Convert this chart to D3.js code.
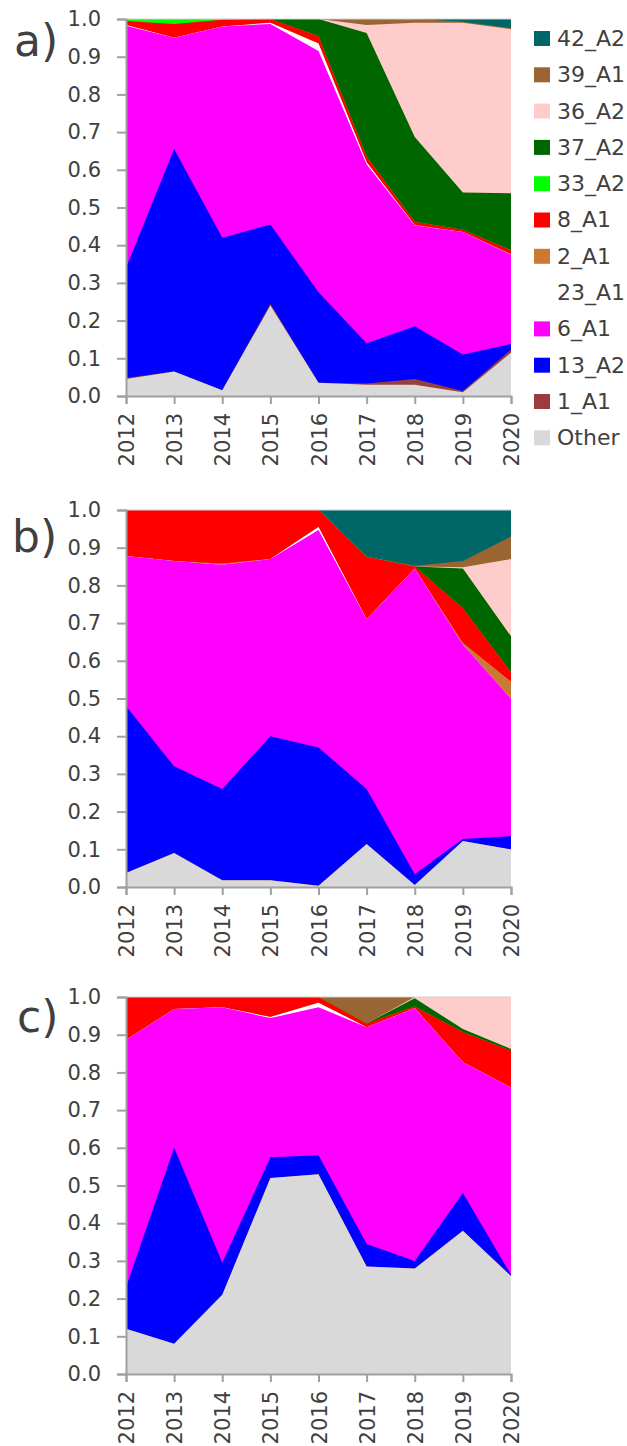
<!DOCTYPE html>
<html>
<head>
<meta charset="utf-8">
<script src="https://cdn.jsdelivr.net/npm/d3@7"></script>
<style>
  body { margin: 0; background: #fff; }
  svg { display: block; }
  text { font-family: "DejaVu Sans", sans-serif; fill: #404040; }
</style>
</head>
<body>
<div id="chart"></div>
<script>
// years on the x axis
const years = [2012, 2013, 2014, 2015, 2016, 2017, 2018, 2019, 2020];

// stack order, bottom to top
const keys = ["Other", "1_A1", "13_A2", "6_A1", "23_A1", "2_A1", "8_A1", "33_A2", "37_A2", "36_A2", "39_A1", "42_A2"];
const colors = ["#d9d9d9", "#993d3d", "#0000ff", "#ff00ff", "#ffffff", "#cc7a33", "#ff0000", "#00ff00", "#006600", "#ffcccc", "#996633", "#006666"];

const yTicks = [0, 0.1, 0.2, 0.3, 0.4, 0.5, 0.6, 0.7, 0.8, 0.9, 1.0];

// panel a) proportions per year
const seriesA = {
  "Other": [0.045, 0.065, 0.015, 0.24, 0.035, 0.03, 0.03, 0.01, 0.115],
  "1_A1":  [0.003, 0, 0, 0.005, 0, 0.003, 0.015, 0.003, 0.008],
  "13_A2": [0.292, 0.59, 0.405, 0.21, 0.24, 0.107, 0.14, 0.097, 0.015],
  "6_A1":  [0.642, 0.295, 0.56, 0.532, 0.64, 0.475, 0.267, 0.325, 0.237],
  "23_A1": [0.002, 0, 0, 0.003, 0.02, 0.005, 0, 0, 0],
  "2_A1":  [0, 0, 0, 0, 0, 0, 0.002, 0, 0.002],
  "8_A1":  [0.011, 0.037, 0.018, 0.01, 0.02, 0.015, 0.008, 0.006, 0.01],
  "33_A2": [0.005, 0.013, 0.002, 0, 0, 0, 0, 0, 0],
  "37_A2": [0, 0, 0, 0, 0.045, 0.328, 0.225, 0.099, 0.151],
  "36_A2": [0, 0, 0, 0, 0, 0.021, 0.303, 0.45, 0.435],
  "39_A1": [0, 0, 0, 0, 0, 0.016, 0.01, 0.003, 0.003],
  "42_A2": [0, 0, 0, 0, 0, 0, 0, 0.007, 0.024]
};

// panel b)
const seriesB = {
  "Other": [0.037, 0.09, 0.018, 0.018, 0.003, 0.114, 0.005, 0.122, 0.1],
  "1_A1":  [0, 0, 0, 0, 0, 0, 0, 0, 0],
  "13_A2": [0.443, 0.23, 0.242, 0.382, 0.367, 0.146, 0.029, 0.005, 0.035],
  "6_A1":  [0.398, 0.545, 0.595, 0.47, 0.577, 0.45, 0.811, 0.516, 0.365],
  "23_A1": [0, 0, 0, 0, 0.008, 0, 0, 0, 0],
  "2_A1":  [0, 0, 0.003, 0, 0, 0, 0, 0.005, 0.045],
  "8_A1":  [0.122, 0.135, 0.142, 0.13, 0.045, 0.166, 0.005, 0.092, 0.025],
  "33_A2": [0, 0, 0, 0, 0, 0, 0, 0, 0],
  "37_A2": [0, 0, 0, 0, 0, 0, 0, 0.105, 0.095],
  "36_A2": [0, 0, 0, 0, 0, 0, 0, 0.003, 0.205],
  "39_A1": [0, 0, 0, 0, 0, 0, 0.002, 0.017, 0.06],
  "42_A2": [0, 0, 0, 0, 0, 0.124, 0.148, 0.135, 0.07]
};

// panel c)
const seriesC = {
  "Other": [0.12, 0.08, 0.21, 0.52, 0.53, 0.285, 0.28, 0.38, 0.26],
  "1_A1":  [0, 0, 0, 0, 0, 0, 0, 0, 0],
  "13_A2": [0.11, 0.52, 0.085, 0.055, 0.05, 0.06, 0.02, 0.10, 0.003],
  "6_A1":  [0.656, 0.368, 0.678, 0.369, 0.393, 0.575, 0.67, 0.347, 0.497],
  "23_A1": [0, 0, 0, 0.003, 0.012, 0, 0, 0, 0],
  "2_A1":  [0, 0, 0, 0, 0, 0, 0, 0, 0],
  "8_A1":  [0.114, 0.032, 0.027, 0.053, 0.015, 0.01, 0.005, 0.08, 0.098],
  "33_A2": [0, 0, 0, 0, 0, 0, 0, 0, 0],
  "37_A2": [0, 0, 0, 0, 0, 0, 0.022, 0.008, 0.004],
  "36_A2": [0, 0, 0, 0, 0, 0, 0.003, 0.085, 0.138],
  "39_A1": [0, 0, 0, 0, 0, 0.07, 0, 0, 0],
  "42_A2": [0, 0, 0, 0, 0, 0, 0, 0, 0]
};

const width = 627, height = 1446;
const left = 126, right = 511, plotH = 377;

const svg = d3.select('#chart').append('svg')
    .attr('width', width)
    .attr('height', height);

const color = d3.scaleOrdinal().domain(keys).range(colors);
const x = d3.scaleLinear().domain([2012, 2020]).range([left, right]);

const panels = [
  { label: "a)", series: seriesA, top: 19, labelX: 14, labelY: 56 },
  { label: "b)", series: seriesB, top: 510, labelX: 12, labelY: 552 },
  { label: "c)", series: seriesC, top: 997, labelX: 17, labelY: 1032 }
];

panels.forEach(p => {
  const rows = years.map((yr, i) => {
    const r = { year: yr };
    keys.forEach(k => r[k] = p.series[k][i]);
    return r;
  });
  const stacked = d3.stack().keys(keys)(rows);

  const y = d3.scaleLinear().domain([0, 1]).range([p.top + plotH, p.top]);

  // paint each layer from the baseline, top layer first, so no seams show
  const area = d3.area()
      .x(d => x(d.data.year))
      .y0(y(0))
      .y1(d => y(d[1]));

  const g = svg.append('g');
  g.selectAll('path.layer')
    .data(stacked.slice().reverse())
    .join('path')
      .attr('class', 'layer')
      .attr('d', area)
      .attr('fill', d => color(d.key));

  // thin frame line at the top of the plot
  g.append('line')
      .attr('x1', left).attr('x2', right)
      .attr('y1', y(1)).attr('y2', y(1))
      .attr('stroke', '#d0d0d0')
      .attr('stroke-width', 1);

  const yAxis = g.append('g')
      .attr('transform', `translate(${left},0)`)
      .call(d3.axisLeft(y).tickValues(yTicks).tickFormat(d3.format('.1f')).tickSize(9).tickPadding(16));

  const xAxis = g.append('g')
      .attr('transform', `translate(0,${p.top + plotH})`)
      .call(d3.axisBottom(x).tickValues(years).tickFormat(d3.format('d')).tickSize(8));

  xAxis.selectAll('text')
      .attr('x', -17)
      .attr('y', 0)
      .attr('dy', '0.36em')
      .attr('transform', 'rotate(-90)')
      .style('text-anchor', 'end');

  [yAxis, xAxis].forEach(ax => {
    ax.select('.domain').attr('stroke', '#a0a0a0').attr('stroke-width', 2);
    ax.selectAll('.tick line').attr('stroke', '#a0a0a0').attr('stroke-width', 2);
    ax.selectAll('text').attr('fill', '#404040').style('font-size', '21px').style('font-family', '"DejaVu Sans", sans-serif');
  });

  g.append('text')
      .attr('x', p.labelX)
      .attr('y', p.labelY)
      .style('font-size', '44px')
      .attr('fill', '#202020')
      .text(p.label);
});

// legend, top item first
const legend = svg.append('g');
const legendKeys = keys.slice().reverse();
legendKeys.forEach((k, i) => {
  const cy = 38 + i * 36.3;
  legend.append('rect')
      .attr('x', 534).attr('y', cy - 7)
      .attr('width', 16).attr('height', 15)
      .attr('fill', color(k));
  legend.append('text')
      .attr('x', 557).attr('y', cy)
      .attr('dy', '0.36em')
      .style('font-size', '22px')
      .text(k);
});
</script>
</body>
</html>
